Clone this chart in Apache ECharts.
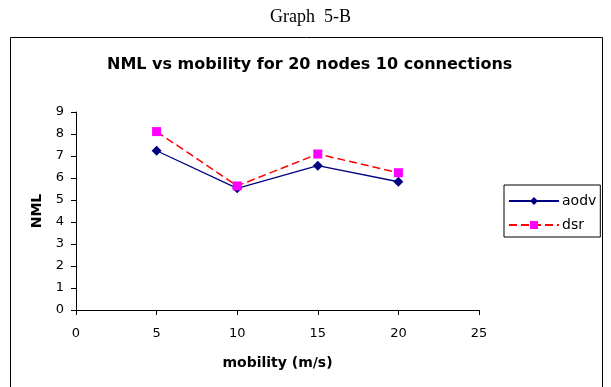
<!DOCTYPE html>
<html>
<head>
<meta charset="utf-8">
<script src="https://cdn.jsdelivr.net/npm/echarts@6/dist/echarts.min.js"></script>
<style>
  html, body { margin: 0; padding: 0; background: #fff; }
  #chart { width: 611px; height: 387px; }
</style>
</head>
<body>
<div id="chart"></div>
<script>
// Mobility (m/s) sample points
const mobility = [5, 10, 15, 20];
// Normalised MAC load per protocol
const aodv = [7.24, 5.53, 6.56, 5.83];
const dsr = [8.11, 5.64, 7.09, 6.24];
const seriesNames = ['aodv', 'dsr'];

const pairs = (xs, ys) => xs.map((x, i) => [x, ys[i]]);

const chart = echarts.init(document.getElementById('chart'), null, { renderer: 'canvas' });
const font = 'DejaVu Sans, Arial, sans-serif';

chart.setOption({
  animation: false,
  backgroundColor: '#fff',
  title: [
    {
      text: 'Graph  5-B',
      left: 265,
      top: 3,
      textStyle: { fontFamily: 'Liberation Serif, Times New Roman, serif', fontSize: 18, fontWeight: 'normal', color: '#000' }
    },
    {
      text: 'NML vs mobility for 20 nodes 10 connections',
      left: 102,
      top: 52,
      textStyle: { fontFamily: font, fontSize: 16, fontWeight: 'bold', color: '#000' }
    }
  ],
  graphic: [
    {
      type: 'rect',
      shape: { x: 10.5, y: 37.5, width: 592, height: 360 },
      style: { fill: 'none', stroke: '#000', lineWidth: 1 },
      silent: true
    }
  ],
  legend: {
    orient: 'vertical',
    left: 504,
    top: 185,
    width: 95,
    padding: [9, 4, 5, 4],
    itemGap: 10,
    itemWidth: 50,
    itemHeight: 10,
    borderColor: '#000',
    borderWidth: 1,
    textStyle: { fontFamily: font, fontSize: 14, lineHeight: 14, color: '#000', padding: [0, 0, 0, -2] },
    data: seriesNames
  },
  grid: { left: 76, right: 132, top: 112, bottom: 77 },
  xAxis: {
    type: 'value',
    min: 0, max: 25, interval: 5,
    name: 'mobility (m/s)',
    nameLocation: 'middle',
    nameGap: 46,
    nameTextStyle: { fontFamily: font, fontSize: 14, fontWeight: 'bold', color: '#000' },
    axisLine: { lineStyle: { color: '#000', width: 1 } },
    axisTick: { show: true, inside: false, length: 5, lineStyle: { color: '#000' } },
    axisLabel: { fontFamily: font, fontSize: 13, color: '#000', margin: 17 },
    splitLine: { show: false }
  },
  yAxis: {
    type: 'value',
    min: 0, max: 9, interval: 1,
    name: 'NML',
    nameLocation: 'middle',
    nameRotate: 90,
    nameGap: 31,
    nameTextStyle: { fontFamily: font, fontSize: 14, fontWeight: 'bold', color: '#000' },
    axisLine: { show: true, lineStyle: { color: '#000', width: 1 } },
    axisTick: { show: true, inside: false, length: 5, lineStyle: { color: '#000' } },
    axisLabel: { fontFamily: font, fontSize: 13, color: '#000', margin: 12 },
    splitLine: { show: false }
  },
  series: [
    {
      name: seriesNames[0],
      type: 'line',
      data: pairs(mobility, aodv),
      symbol: 'diamond',
      symbolSize: 10,
      color: '#000080',
      lineStyle: { color: '#000080', width: 1.3 },
      itemStyle: { color: '#000080' }
    },
    {
      name: seriesNames[1],
      type: 'line',
      data: pairs(mobility, dsr),
      symbol: 'rect',
      symbolSize: 9,
      color: '#ff00ff',
      lineStyle: { color: '#ff0000', width: 1.5, type: [8, 4] },
      itemStyle: { color: '#ff00ff' }
    }
  ]
});
</script>
</body>
</html>
